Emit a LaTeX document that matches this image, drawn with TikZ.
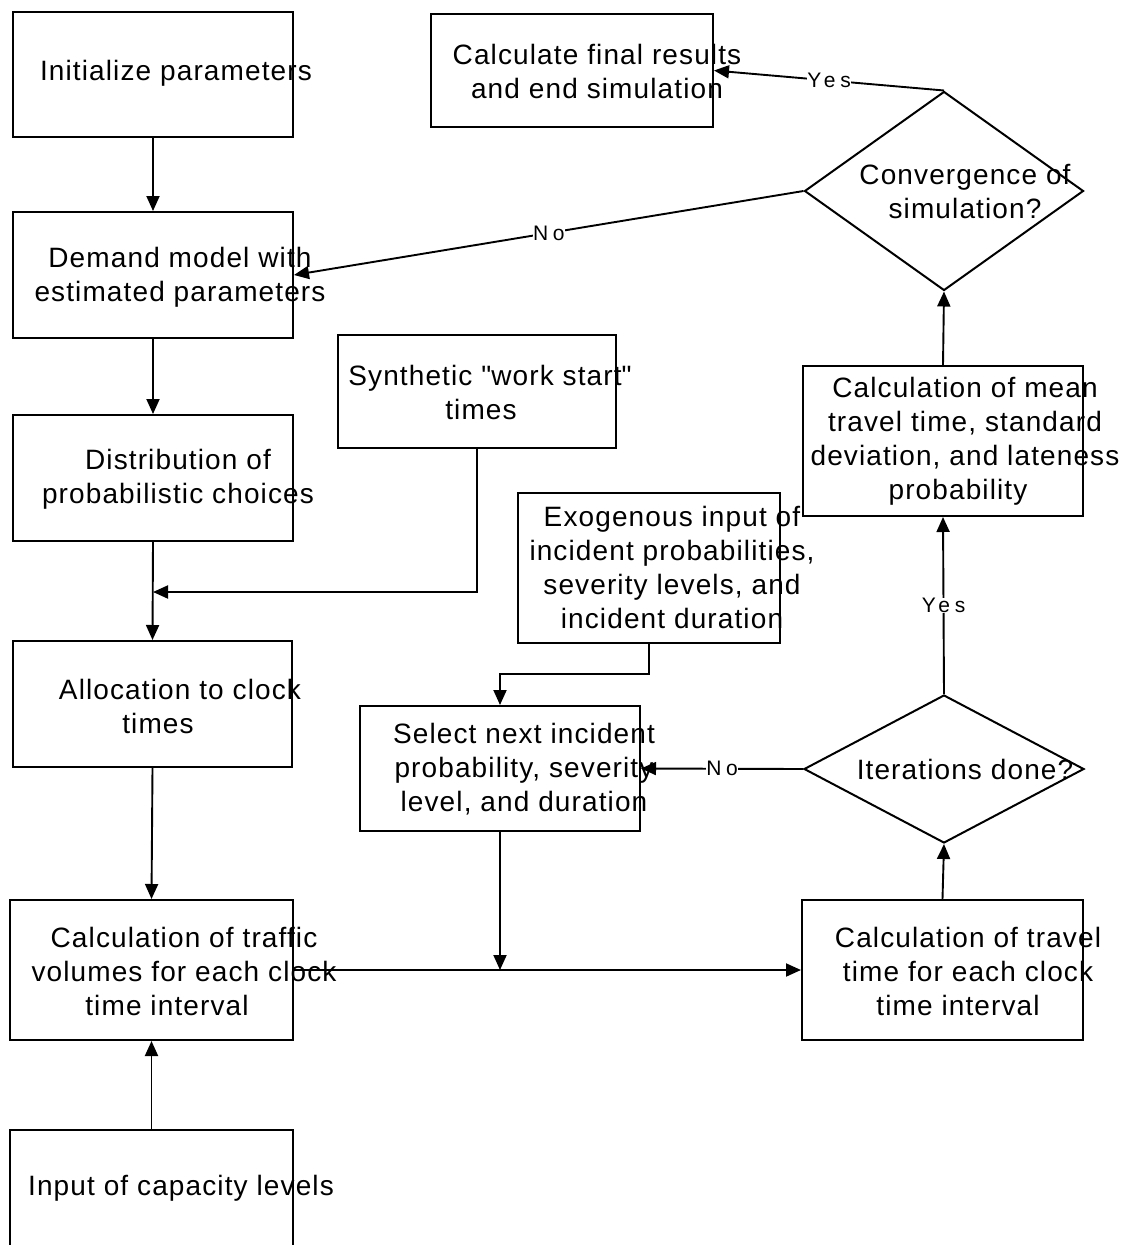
\documentclass[tikz,border=0pt]{standalone}
\usepackage{fontspec}
\setmainfont{Liberation Sans}[LetterSpace=4]
\newfontfamily\lblfont{Liberation Sans}[LetterSpace=22]
\newcommand{\sqq}{{\addfontfeatures{Ligatures=TeXOff}"}}
\usetikzlibrary{arrows.meta,shapes.geometric}
\begin{document}
\begin{tikzpicture}[x=1pt,y=-1pt,
  box/.style={draw, line width=2pt, inner sep=0pt},
  dia/.style={draw, diamond, line width=2pt, inner sep=0pt},
  txt/.style={align=center, inner sep=0pt, font=\fontsize{28}{34}\selectfont},
  lbl/.style={fill=white, inner sep=0.5pt, font=\lblfont\fontsize{21}{24}\selectfont},
  conn/.style={line width=1.9pt, -{Triangle[length=15pt,width=13pt]}},
  plain/.style={line width=1.9pt}]
\useasboundingbox (0,0) rectangle (1127,1245);
\fill[white] (0,0) rectangle (1127,1245);
\clip (0,0) rectangle (1127,1245);

% boxes
\node[box, minimum width=280pt, minimum height=125pt] (init) at (153,74.5) {};
\node[box, minimum width=280pt, minimum height=126pt] (demand) at (153,275) {};
\node[box, minimum width=280pt, minimum height=126pt] (distr) at (153,478) {};
\node[box, minimum width=279pt, minimum height=126pt] (alloc) at (152.5,704) {};
\node[box, minimum width=283pt, minimum height=140pt] (traffic) at (151.5,970) {};
\node[box, minimum width=283pt, minimum height=140pt] (input) at (151.5,1200) {};
\node[box, minimum width=278pt, minimum height=113pt] (syn) at (477,391.5) {};
\node[box, minimum width=262pt, minimum height=150pt] (exo) at (649,568) {};
\node[box, minimum width=280pt, minimum height=125pt] (sel) at (500,768.5) {};
\node[box, minimum width=282pt, minimum height=113pt] (final) at (572,70.5) {};
\node[dia, minimum width=279pt, minimum height=199pt] (conv) at (944,191) {};
\node[box, minimum width=280pt, minimum height=150pt] (mean) at (943,441) {};
\node[dia, minimum width=280pt, minimum height=148pt] (iter) at (944,769) {};
\node[box, minimum width=281pt, minimum height=140pt] (travel) at (942.5,970) {};

% junctions
\coordinate (j1) at (153,592);
\coordinate (j2) at (sel.south |- traffic.east);

% connectors
\draw[conn] (init.south) -- (demand.north);
\draw[conn] (demand.south) -- (distr.north);
\draw[conn] (distr.south) -- (alloc.north);
\draw[conn] (syn.south) |- (j1);
\draw[conn] (alloc.south) -- (traffic.north);
\draw[conn] (input.north) -- (traffic.south);
\draw[conn] (traffic.east) -- (travel.west);
\draw[conn] (exo.south) -- ++(0,30) -| (sel.north);
\draw[conn] (sel.south) -- (j2);
\draw[conn] (travel.north) -- (iter.south);
\draw[conn] (iter.west) -- node[lbl] (lno1) {No} (sel.east);
\draw[conn] (iter.north) -- node[lbl] (lyes1) {Yes} (mean.south);
\draw[conn] (mean.north) -- (conv.south);
\draw[conn] (conv.north) -- node[lbl] (lyes2) {Yes} (final.east);
\draw[conn] (conv.west) -- node[lbl] (lno2) {No} (demand.east);

% texts
\node[txt] (tinit) at (176,73) {Initialize parameters};
\node[txt] (tdem) at (180,277) {Demand model with\\estimated parameters};
\node[txt] (tdist) at (178,479) {Distribution of\\probabilistic choices};
\node[txt] (talloc) at (180,706) {Allocation to clock\\times\hspace*{44pt}};
\node[txt] (ttraf) at (184,971) {Calculation of traffic\\volumes for each clock\\time interval\hspace*{34pt}};
\node[txt] (tinput) at (181,1188) {Input of capacity levels};
\node[txt] (tsyn) at (490,392) {Synthetic \sqq work start\sqq\\times\hspace*{18pt}};
\node[txt] (texo) at (672,567) {Exogenous input of\\incident probabilities,\\severity levels, and\\incident duration};
\node[txt] (tsel) at (524,769) {Select next incident\\probability, severity\\level, and duration};
\node[txt] (tfinal) at (597,71) {Calculate final results\\and end simulation};
\node[txt] (tconv) at (965,192) {Convergence of\\simulation?};
\node[txt] (tmean) at (965,441) {Calculation of mean\\travel time, standard\\deviation, and lateness\\probability\hspace*{14pt}};
\node[txt] (titer) at (965,769) {Iterations done?};
\node[txt] (ttrav) at (968,971) {Calculation of travel\\time for each clock\\time interval\hspace*{20pt}};
\end{tikzpicture}
\end{document}
